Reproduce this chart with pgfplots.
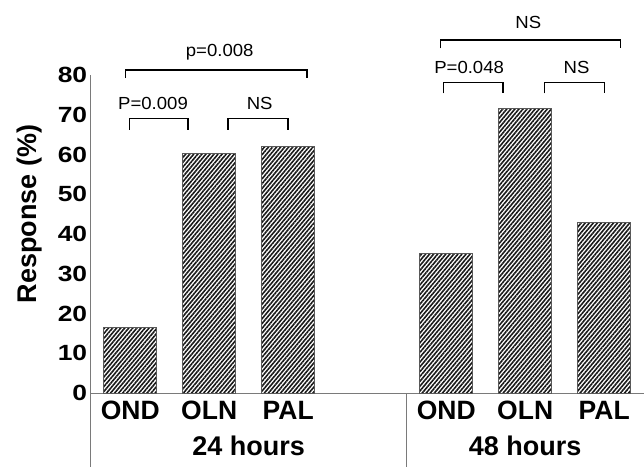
\documentclass[border=0pt]{standalone}
\usepackage{fontspec}
\setmainfont{Liberation Sans}
\newfontfamily\stretchfont{Liberation Sans}[FakeStretch=1.2]
\newfontfamily\annfont{Liberation Sans}[FakeStretch=1.06]
\usepackage{pgfplots}
\pgfplotsset{compat=1.18}
\usetikzlibrary{patterns.meta}
\definecolor{axgray}{HTML}{7A7A7A}
\begin{document}
\begin{tikzpicture}
\begin{axis}[name=ax,
  scale only axis, width=553pt, height=318pt,
  xmin=-0.5, xmax=6.5, ymin=0, ymax=80,
  axis lines*=left,
  axis line style={axgray, line width=1pt},
  clip=false,
  xtick={0,1,2,4,5,6},
  xticklabels={OND,OLN,PAL,OND,OLN,PAL},
  ytick={0,10,...,80},
  major tick length=0pt,
  /pgf/number format/assume math mode=true,
  xticklabel style={font=\bfseries\fontsize{26.5}{29}\selectfont, anchor=base, yshift=-26pt},
  yticklabel style={font=\stretchfont\bfseries\fontsize{22}{24}\selectfont},
]
\addplot[ybar, bar width=53pt, draw=black!65, line width=0.8pt,
  pattern={Lines[angle=50,distance=3.1pt,line width=1.6pt]}, pattern color=black!90]
  coordinates {(0,16.6) (1,60.3) (2,62.1) (4,35.2) (5,71.6) (6,43.0)};
% brackets 24 h
\addplot[black, line width=1.2pt, no marks] coordinates {(-0.057,79.2) (-0.057,81.26) (2.238,81.26) (2.238,79.2)};
\addplot[black, line width=1.2pt, no marks] coordinates {(-0.006,66.2) (-0.006,69.1) (0.732,69.1) (0.732,66.2)};
\addplot[black, line width=1.2pt, no marks] coordinates {(1.238,66.2) (1.238,69.1) (1.998,69.1) (1.998,66.2)};
% brackets 48 h
\addplot[black, line width=1.2pt, no marks] coordinates {(3.93,86.7) (3.93,88.8) (6.21,88.8) (6.21,86.7)};
\addplot[black, line width=1.2pt, no marks] coordinates {(3.97,75.4) (3.97,78.1) (4.72,78.1) (4.72,75.4)};
\addplot[black, line width=1.2pt, no marks] coordinates {(5.247,75.4) (5.247,78.1) (6.0,78.1) (6.0,75.4)};
% annotation texts
\begin{scope}[every node/.style={anchor=base, inner sep=0pt, font=\annfont\fontsize{17.5}{20}\selectfont}]
\node at (axis cs:1.133,84.6) {p=0.008};
\node at (axis cs:0.289,71.4) {P=0.009};
\node at (axis cs:1.639,71.4) {NS};
\node at (axis cs:5.04,91.8) {NS};
\node at (axis cs:4.29,80.4) {P=0.048};
\node at (axis cs:5.65,80.4) {NS};
\end{scope}
% group separators
\draw[axgray, line width=1pt] (axis cs:-0.5,0) -- ++(0pt,-74pt);
\draw[axgray, line width=1pt] (axis cs:3.5,0) -- ++(0pt,-74pt);
% group labels
\node[anchor=base, inner sep=0pt, font=\bfseries\fontsize{27}{30}\selectfont] at (axis cs:1.5,-15.6) {24 hours};
\node[anchor=base, inner sep=0pt, font=\bfseries\fontsize{27}{30}\selectfont] at (axis cs:5.0,-15.6) {48 hours};
% y label
\node[rotate=90, anchor=base, inner sep=0pt, font=\bfseries\fontsize{27}{30}\selectfont] at (axis cs:-1.18,45.0) {Response (\%)};
\end{axis}
\pgfresetboundingbox
\path[use as bounding box] (ax.south west) ++(-90.7pt,-74pt) rectangle ++(644pt,467pt);
\end{tikzpicture}
\end{document}
